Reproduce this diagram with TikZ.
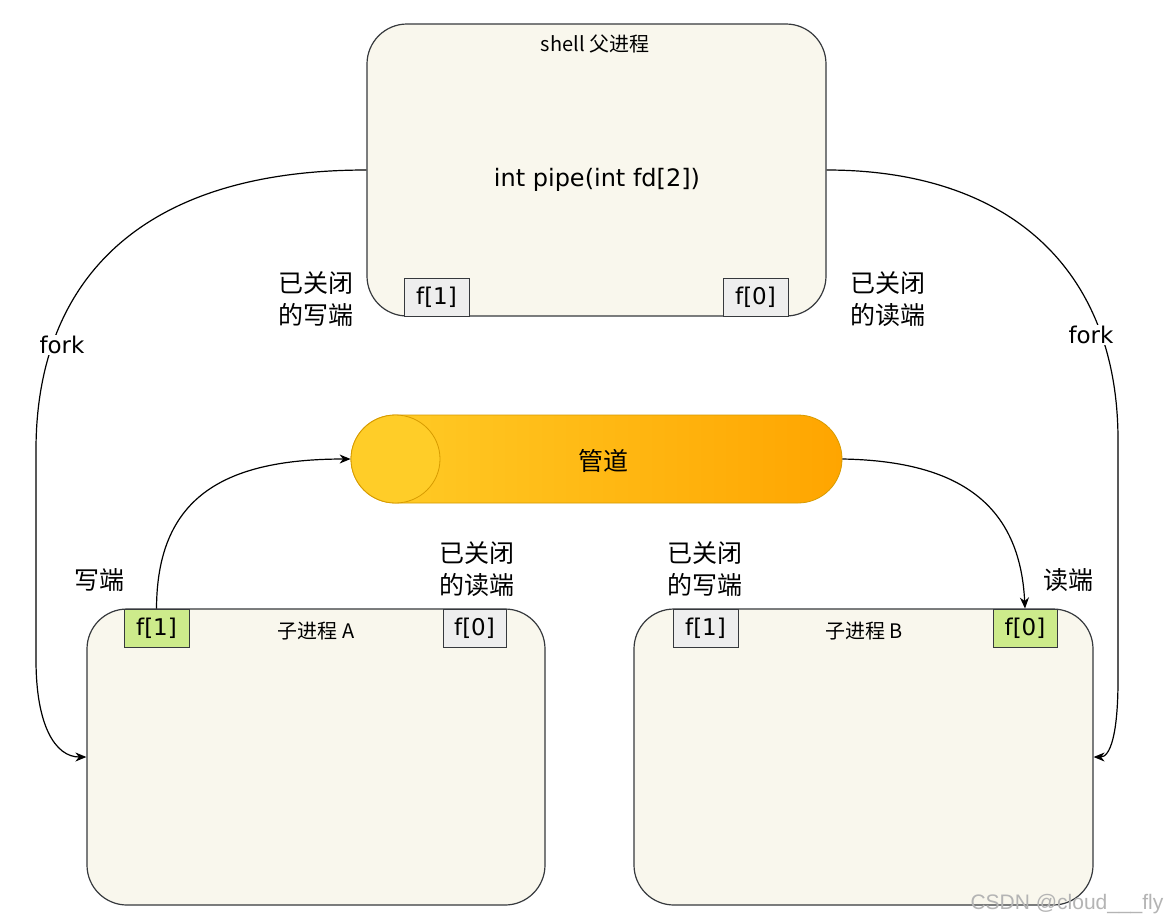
\documentclass[tikz,border=0pt]{standalone}
\usepackage{fontspec}
\setmainfont{Liberation Sans}
\newfontfamily\cjk{Noto Sans CJK SC}
\newfontfamily\comic{DejaVu Sans}
\usetikzlibrary{arrows.meta,shapes.misc}
\definecolor{cream}{HTML}{F9F7ED}
\definecolor{edge}{HTML}{36393D}
\definecolor{fdgray}{HTML}{EEEEEE}
\definecolor{fdgreen}{HTML}{CDEB8B}
\definecolor{pipeL}{HTML}{FFCD28}
\definecolor{pipeR}{HTML}{FFA500}
\definecolor{pipeEdge}{HTML}{D79B00}
\definecolor{wmgray}{HTML}{B4B4B4}
\begin{document}
\begin{tikzpicture}[x=1pt,y=-1pt,
  proc/.style={draw=edge, line width=1.2pt, fill=cream, rounded corners=40pt, inner sep=0pt},
  fdbox/.style={draw=edge, line width=1pt, minimum width=64pt, minimum height=38pt, inner sep=0pt, font=\comic\fontsize{23}{28}\selectfont},
  lbl/.style={font=\cjk\fontsize{25}{32}\selectfont, align=center, inner sep=0pt},
  small/.style={font=\cjk\fontsize{20}{24}\selectfont, inner sep=0pt},
  forklbl/.style={font=\comic\fontsize{23}{28}\selectfont, fill=white, inner sep=1pt},
  conn/.style={line width=1.2pt, -{Stealth[length=11pt,width=9pt,inset=3.5pt]}},
]
\useasboundingbox (0,0) rectangle (1167,922);
\fill[white] (0,0) rectangle (1167,922);

% parent process
\node[proc, minimum width=459pt, minimum height=292pt] (top) at (596.5,170) {};
\node[small] (toptitle) at (595,44) {shell 父进程};
\node[font=\comic\fontsize{24}{28}\selectfont, inner sep=0pt] (call) at (597,180) {int pipe(int fd[2])};
\node[fdbox, fill=fdgray, minimum width=65pt] (tf1) at (436.5,297) {f[1]};
\node[fdbox, fill=fdgray, minimum width=65pt] (tf0) at (755.5,297) {f[0]};

% child processes
\node[proc, minimum width=458pt, minimum height=296pt] (boxA) at (316,757) {};
\node[proc, minimum width=459pt, minimum height=296pt] (boxB) at (863.5,757) {};
\node[fdbox, fill=fdgreen, minimum width=65pt] (af1) at (156.5,628) {f[1]};
\node[fdbox, fill=fdgray, minimum width=63pt] (af0) at (474.5,628) {f[0]};
\node[fdbox, fill=fdgray, minimum width=65pt] (bf1) at (705.5,628) {f[1]};
\node[fdbox, fill=fdgreen, minimum width=64pt] (bf0) at (1025,628) {f[0]};
\node[small] (ta) at (316,631) {子进程 A};
\node[small] (tb) at (864,631) {子进程 B};

% pipe
\node[rounded rectangle, draw=pipeEdge, line width=0.8pt, left color=pipeL, right color=pipeR,
      minimum width=491pt, minimum height=88pt, inner sep=0pt] (pipe) at (596.5,459) {};
\draw[draw=pipeEdge, line width=0.8pt, fill=pipeL] (395.5,459) ellipse [x radius=44.5pt, y radius=44pt];
\node[font=\cjk\fontsize{25}{30}\selectfont, inner sep=0pt] (pipelbl) at (603,461) {管道};

% labels
\node[lbl] (l1) at (316,299) {已关闭\\的写端};
\node[lbl] (l2) at (888,299) {已关闭\\的读端};
\node[lbl] (l3) at (99,580) {写端};
\node[lbl] (l4) at (477,569) {已关闭\\的读端};
\node[lbl] (l5) at (705,569) {已关闭\\的写端};
\node[lbl] (l6) at (1068,580) {读端};

% connectors
\draw[conn] (top.west) .. controls (130,170) and (36,290) .. (36,450) -- (36,660)
  .. controls (36,725) and (55,757) .. (boxA.west);
\draw[conn] (top.east) .. controls (1010,170) and (1118,270) .. (1118,440) -- (1118,680)
  .. controls (1118,735) and (1110,757) .. (boxB.east);
\draw[conn] (af1.north) .. controls (157,500) and (220,459) .. (pipe.west);
\draw[conn] (pipe.east) .. controls (960,461) and (1020,505) .. (bf0.north);
\node[forklbl] (fork1) at (62,345) {fork};
\node[forklbl] (fork2) at (1091,335) {fork};

% watermark
\node[font=\fontsize{21}{21}\selectfont, text=wmgray, inner sep=0pt] (wm) at (1067,904) {CSDN @cloud\_\_\_fly};
\end{tikzpicture}
\end{document}
